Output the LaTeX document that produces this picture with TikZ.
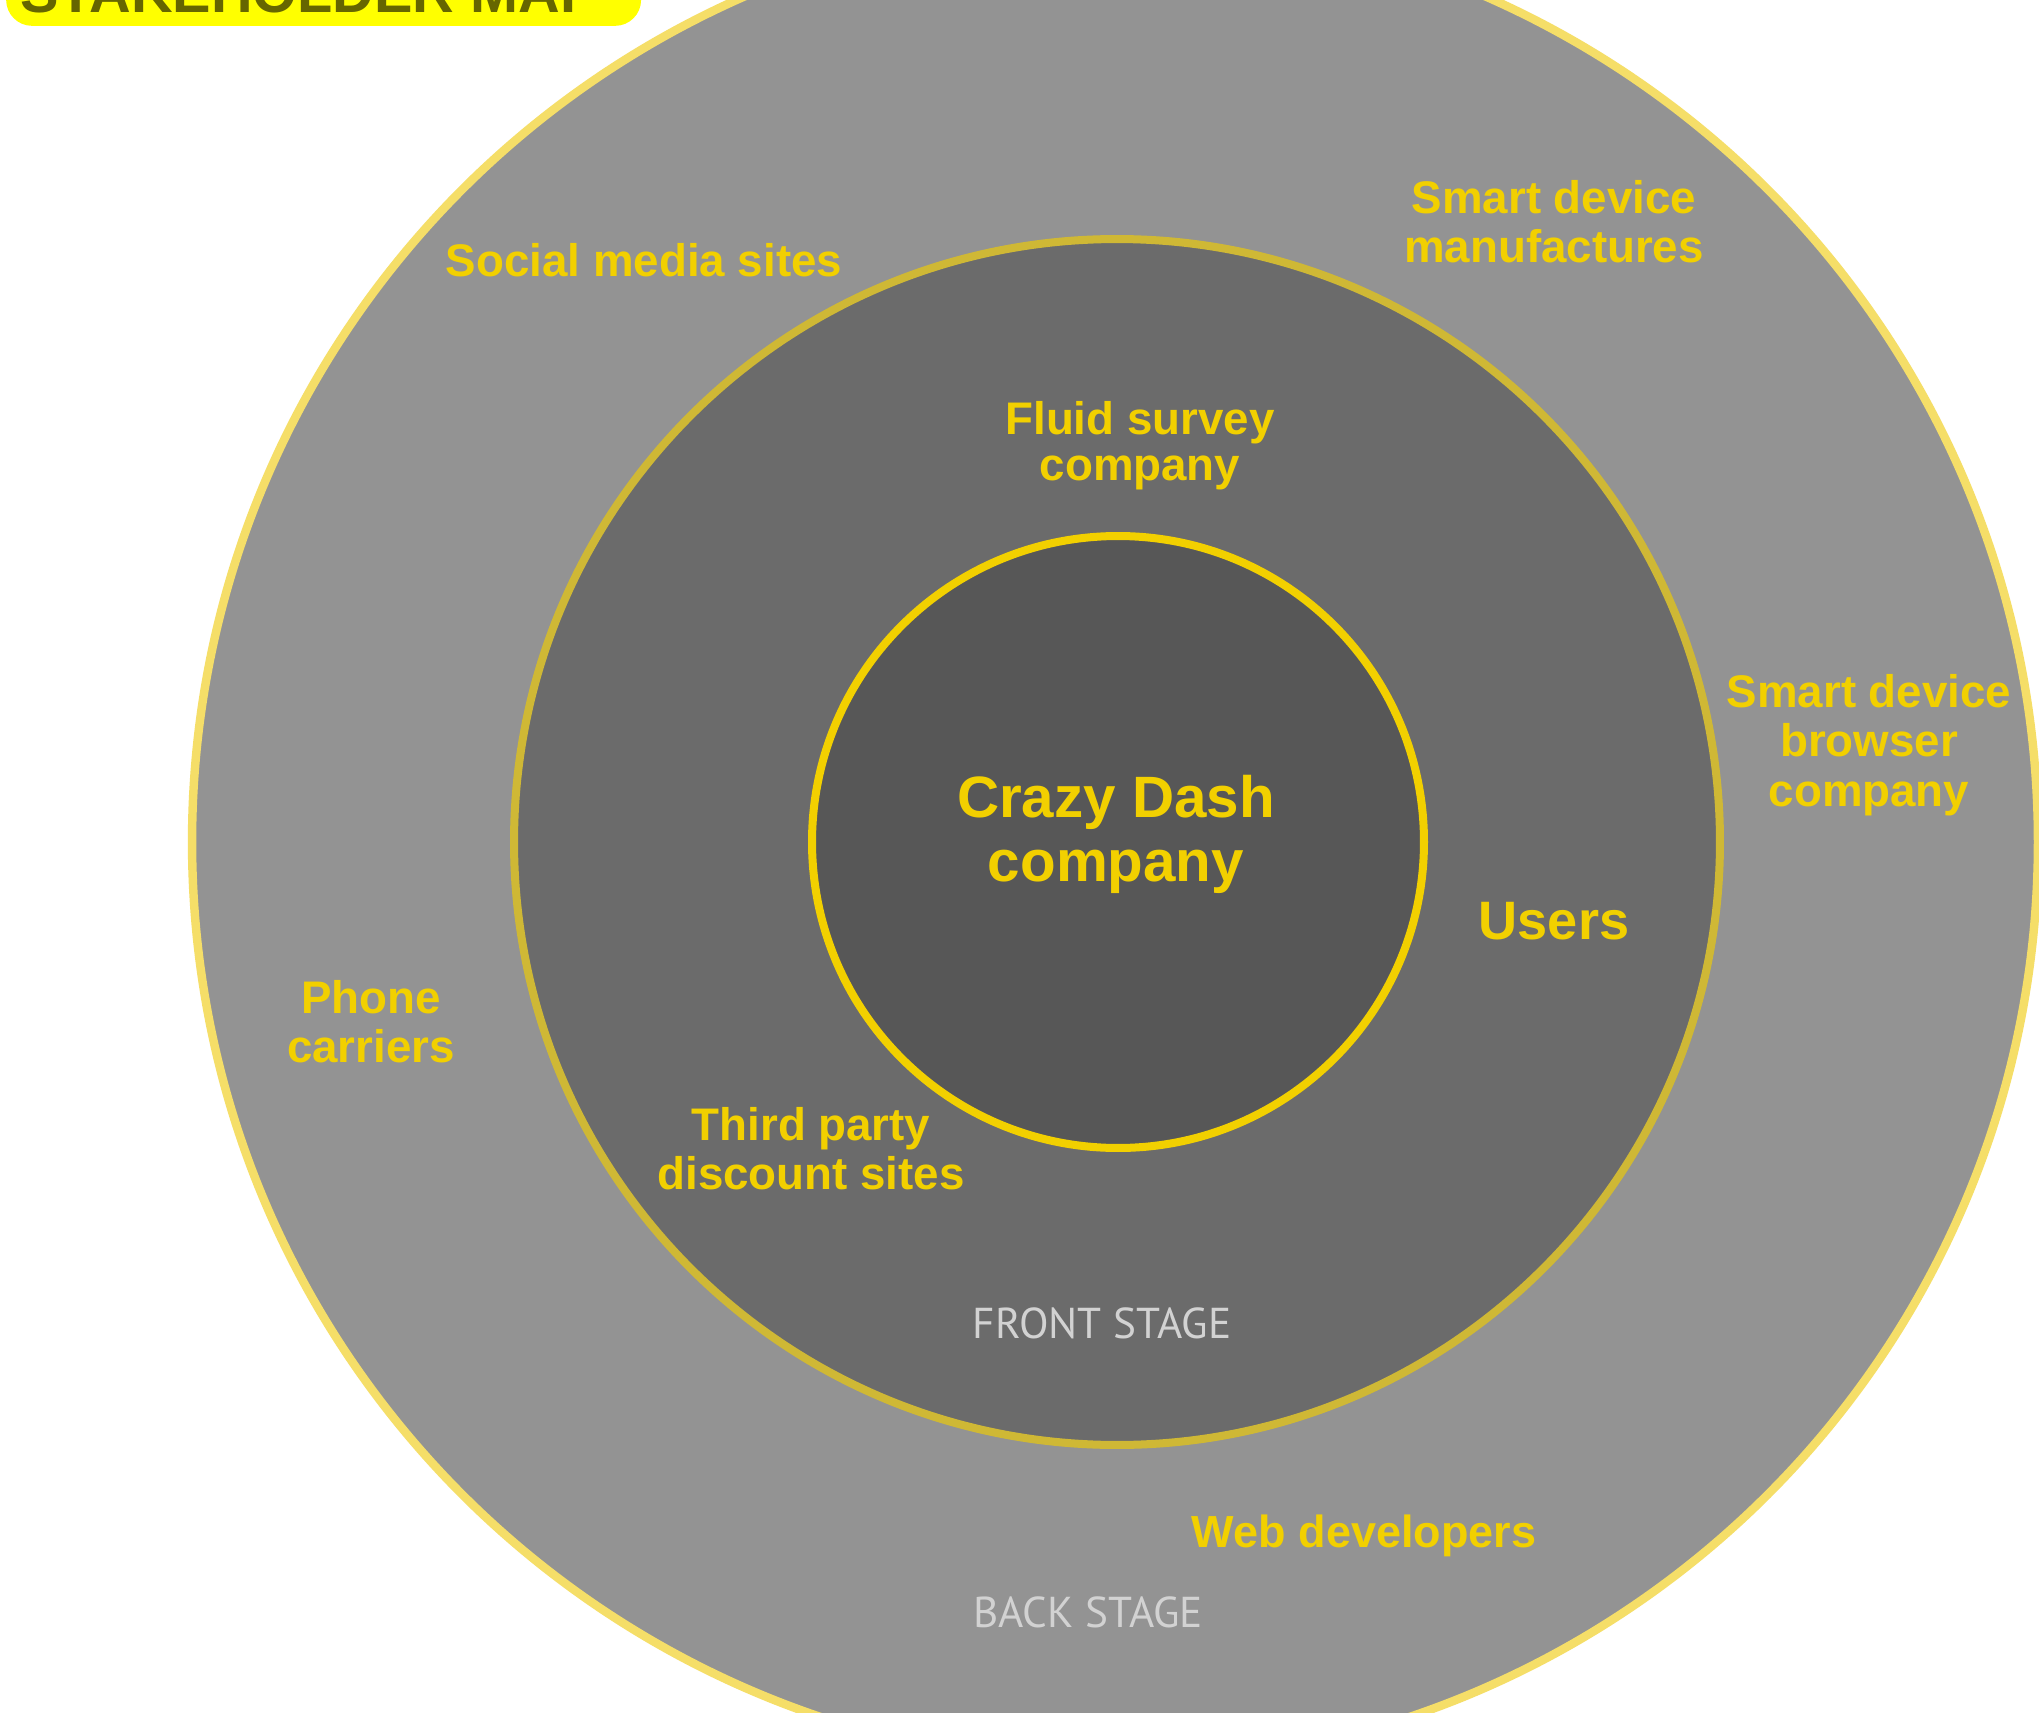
\documentclass[tikz,border=0pt]{standalone}
\usepackage{fontspec}
\setmainfont{Liberation Sans}
\newfontfamily\stagefont{PT Sans}
\definecolor{ringout}{HTML}{939393}
\definecolor{ringmid}{HTML}{6B6B6B}
\definecolor{ringin}{HTML}{575757}
\definecolor{edgeout}{HTML}{F5DE68}
\definecolor{edgemid}{HTML}{CFB835}
\definecolor{edgein}{HTML}{F2D000}
\definecolor{labelyellow}{HTML}{F2D000}
\definecolor{stagegray}{HTML}{D2D2D2}
\definecolor{titlebg}{HTML}{FFFF00}
\definecolor{titleink}{HTML}{666600}
\tikzset{
  ring/.style={circle, inner sep=0pt, outer sep=0pt},
  who/.style={text=labelyellow, align=center, inner sep=0pt,
    font=\bfseries\fontsize{65}{70}\selectfont},
  stage/.style={text=stagegray, inner sep=0pt,
    font=\stagefont\fontsize{61.5}{66}\selectfont},
}
\begin{document}
\begin{tikzpicture}[x=0.05cm, y=-0.05cm]
\useasboundingbox (0,0) rectangle (2039,1713);
\clip (0,0) rectangle (2039,1713);
\fill[white] (0,0) rectangle (2039,1713);

% title tab, running off the top edge
\node[fill=titlebg, rounded corners=1.3cm, minimum width=31.75cm, minimum height=5cm,
      inner sep=0pt, anchor=south west] (titlebox) at (6,26) {};
\node[text=titleink, font=\bfseries\fontsize{82}{86}\selectfont, anchor=base west, inner sep=0pt]
  (title) at (20,13) {STAKEHOLDER MAP};

% three stakeholder rings
\node[ring, fill=ringout, draw=edgeout, line width=12pt, minimum size=92.3cm] (outer) at (1115,842) {};
\node[ring, fill=ringmid, draw=edgemid, line width=11.4pt, minimum size=60.3cm] (middle) at (1117,842) {};
\node[ring, fill=ringin, draw=edgein, line width=11.4pt, minimum size=30.6cm] (inner) at (1118,842) {};

% core
\node[who, font=\bfseries\fontsize{83}{91}\selectfont] (core) at (1116,834) {Crazy Dash\\company};

% front stage
\node[who, font=\bfseries\fontsize{65}{65}\selectfont] (survey) at (1140,446) {Fluid survey\\company};
\node[who, font=\bfseries\fontsize{77}{80}\selectfont] (users) at (1554,921) {Users};
\node[who] (discount) at (811,1149) {Third party\\discount sites};
\node[stage] (front) at (1102,1323) {FRONT STAGE};

% back stage
\node[who] (social) at (644,260) {Social media sites};
\node[who] (makers) at (1554,222) {Smart device\\manufactures};
\node[who] (browser) at (1869,745) {Smart device\\browser\\company};
\node[who] (carriers) at (371,1022) {Phone\\carriers};
\node[who, font=\bfseries\fontsize{64}{70}\selectfont] (webdev) at (1364,1536) {Web developers};
\node[stage] (back) at (1088,1612) {BACK STAGE};
\end{tikzpicture}
\end{document}
